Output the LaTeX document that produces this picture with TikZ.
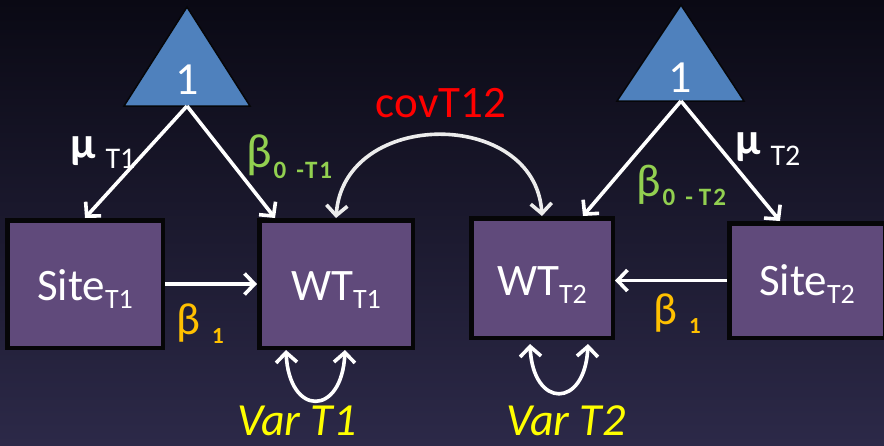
\documentclass[tikz,border=0pt]{standalone}
\usepackage{fontspec}
\setmainfont{Carlito}
\usetikzlibrary{arrows.meta}

\definecolor{bgtop}{RGB}{10,9,20}
\definecolor{bgbot}{RGB}{44,41,72}
\definecolor{boxfill}{RGB}{96,74,123}
\definecolor{boxedge}{RGB}{6,6,8}
\definecolor{triblue}{RGB}{79,129,189}
\definecolor{betagreen}{RGB}{146,208,80}
\definecolor{betaorange}{RGB}{255,192,0}
\definecolor{varyellow}{RGB}{255,255,0}
\definecolor{covgray}{RGB}{236,236,236}

\newcommand\fsz[1]{\fontsize{#1}{#1}\selectfont}
% lowered index: drop in pt, font size, text
\newcommand\lowidx[3]{\raisebox{-#1pt}{\fsz{#2}#3}}
% white label set inside a box
\newcommand\boxtext[2]{\textcolor{white}{#1\lowidx{8}{28}{#2}}}

\begin{document}
\begin{tikzpicture}[x=1pt,y=-1pt,
  % black frame as outer fill, purple face filled 4.5pt inside it
  box/.style={fill=boxedge, inner sep=0pt, outer sep=0pt,
              font=\fsz{45}, text depth=0pt,
              path picture={\fill[boxfill]
                ([xshift=4.5pt,yshift=-4.5pt]path picture bounding box.north west) rectangle
                ([xshift=-4.5pt,yshift=4.5pt]path picture bounding box.south east);}},
  tri/.style={fill=triblue, draw=boxedge, line width=1.5pt, line join=miter},
  one/.style={text=white, font=\fsz{46}, inner sep=0pt},
  arr/.style={draw=white, line width=3.6pt, -{Straight Barb[length=10pt, width=21pt]}},
  twoway/.style={draw=#1, line width=3.6pt,
                 {Straight Barb[length=10pt, width=21pt]}-{Straight Barb[length=10pt, width=21pt]}},
  lbl/.style={inner sep=0pt, anchor=base west},
]
\useasboundingbox (0,0) rectangle (884,445);
\shade[top color=bgtop, bottom color=bgbot] (0,0) rectangle (884,445);

% observed variables
\node[box, minimum width=160pt, minimum height=132pt, text height=32pt]
  (siteA) at (85,284) {\boxtext{Site}{T1}};
\node[box, minimum width=158pt, minimum height=132pt, text height=32pt]
  (wtA) at (336,284) {\boxtext{WT}{T1}};
\node[box, minimum width=146pt, minimum height=124pt, text height=34pt]
  (wtB) at (542,278) {\boxtext{WT}{T2}};
\node[box, minimum width=160pt, minimum height=119pt, text height=29pt]
  (siteB) at (807,280.5) {\boxtext{Site}{T2}};

% constants
\filldraw[tri] (187,7) -- (250,106) -- (124,106) -- cycle;
\node[one] (oneA) at (187,80) {1};
\coordinate (tA) at (187,106);
\filldraw[tri] (681,5) -- (744,101) -- (617,101) -- cycle;
\node[one] (oneB) at (680,78) {1};
\coordinate (tB) at (681,101);

% mean paths
\draw[arr] (tA) -- (siteA.north);
\draw[arr] (tA) -- ([xshift=18pt]wtA.north west);
\draw[arr] (tB) -- ([xshift=-32pt]wtB.north east);
\draw[arr] (tB) -- ([xshift=-27pt]siteB.north);

% regressions
\draw[arr] (siteA.east) -- (wtA.west);
\draw[arr] (siteB.west) -- (siteB.west -| wtB.east);

% covariance
\draw[twoway=covgray] (wtA.north) .. controls +(8,-110) and +(-7,-108) .. (wtB.north);

% residual variances
\draw[twoway=white] ([xshift=-50pt]wtA.south) .. controls +(3,67) and +(-3,67) .. ([xshift=9pt]wtA.south);
\draw[twoway=white] ([xshift=-12pt,yshift=-4pt]wtB.south) .. controls +(3,65) and +(-3,65) .. ([xshift=46pt,yshift=-4pt]wtB.south);

% labels
\node[text=red, font=\fsz{45}, inner sep=0pt] (cov) at (441,103) {covT12};
\node[lbl, text=varyellow, font=\fsz{46}\itshape] (varA) at (237,435) {Var T1};
\node[lbl, text=varyellow, font=\fsz{46}\itshape] (varB) at (506,435) {Var T2};

\node[lbl, text=white] (muA) at (70,158)
  {\fsz{45}\bfseries μ\hspace{10pt}\lowidx{10}{30}{\mdseries T1}};
\node[lbl, text=white] (muB) at (735,154)
  {\fsz{45}\bfseries μ\hspace{10pt}\lowidx{11}{30}{\mdseries T2}};

\node[lbl, text=betagreen] (bA) at (246,167)
  {\fsz{48}β\hspace{2pt}\lowidx{11}{25}{\bfseries 0\hspace{10pt}-\hspace{1pt}T\hspace{2pt}1}};
\node[lbl, text=betagreen] (bB) at (636,196)
  {\fsz{46}β\hspace{2pt}\lowidx{9}{25}{\bfseries 0\hspace{10pt}-\hspace{6pt}T\hspace{2pt}2}};

\node[lbl, text=betaorange] (bOneA) at (176,334)
  {\fsz{45}β\hspace{12pt}\lowidx{9}{23}{\bfseries 1}};
\node[lbl, text=betaorange] (bOneB) at (653,324)
  {\fsz{45}β\hspace{12pt}\lowidx{9}{23}{\bfseries 1}};
\end{tikzpicture}
\end{document}
